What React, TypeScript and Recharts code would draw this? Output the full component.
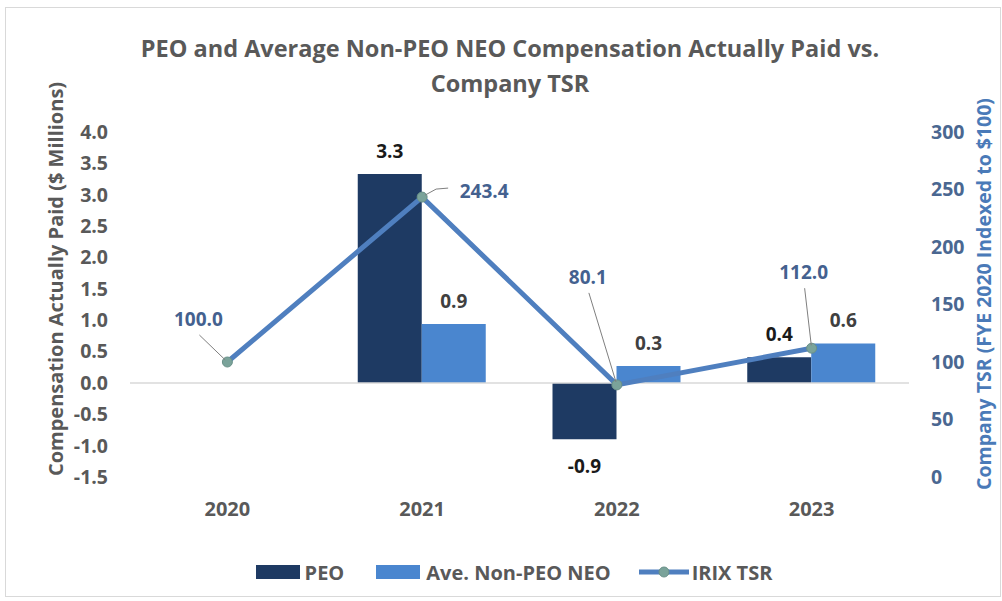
import React from 'react';
import {
  ComposedChart,
  Bar,
  Line,
  XAxis,
  YAxis,
  ReferenceLine,
  LabelList,
  Legend,
  Customized,
} from 'recharts';

// ---------- data ----------
const years = ['2020', '2021', '2022', '2023'];
const peoValues: (number | null)[] = [null, 3.33, -0.9, 0.41];
const nonPeoValues: (number | null)[] = [null, 0.94, 0.27, 0.63];
const tsrValues = [100.0, 243.4, 80.1, 112.0];
const leftTicks = [-1.5, -1.0, -0.5, 0.0, 0.5, 1.0, 1.5, 2.0, 2.5, 3.0, 3.5, 4.0];
const rightTicks = [0, 50, 100, 150, 200, 250, 300];

const data = years.map((year, i) => ({
  year,
  peo: peoValues[i],
  nonPeo: nonPeoValues[i],
  tsr: tsrValues[i],
}));

// ---------- styles ----------
const FONT = '"Open Sans", "Noto Sans", sans-serif';
const GRAY = '#595959';
const PEO_COLOR = '#1e3a63';
const NONPEO_COLOR = '#4a86cf';
const LINE_COLOR = '#4f7fbf';
const TSR_LABEL_COLOR = '#44618f';
const RIGHT_TICK_COLOR = '#4a6791';
const RIGHT_TITLE_COLOR = '#4a7ab8';
const LABEL_SIZE = 19;

// label placement (relative to each TSR point)
const TSR_LABEL_OFFSETS: [number, number][] = [
  [-29, -43],
  [62, -6],
  [-29, -108],
  [-8, -76],
];

const makeBarLabel = (color: string) => (props: any) => {
  const { x, y, width, height, value } = props;
  if (value === null || value === undefined) return null;
  const top = Math.min(y, y + height);
  const bottom = Math.max(y, y + height);
  const cx = x + width / 2;
  const cy = value >= 0 ? top - 23 : bottom + 27;
  return (
    <text
      x={cx}
      y={cy}
      textAnchor="middle"
      dominantBaseline="central"
      fill={color}
      fontSize={LABEL_SIZE}
      fontWeight={700}
      fontFamily={FONT}
    >
      {Number(value).toFixed(1)}
    </text>
  );
};

const TsrLabel = (props: any) => {
  const { x, y, value, index } = props;
  if (value === null || value === undefined) return null;
  const [dx, dy] = TSR_LABEL_OFFSETS[index] || [0, -20];
  const lx = x + dx;
  const ly = y + dy;
  const horizontal = Math.abs(dy) < 20;
  let points: string;
  if (horizontal) {
    points = `${x + 3},${y - 2} ${x + 14},${y - 8} ${lx - 36},${y - 9}`;
  } else {
    const sx = lx + 1;
    const sy = ly + 16;
    const len = Math.hypot(x - sx, y - sy);
    const ex = x - ((x - sx) / len) * 3;
    const ey = y - ((y - sy) / len) * 3;
    points = `${sx},${sy} ${ex},${ey}`;
  }
  return (
    <g>
      <polyline points={points} fill="none" stroke="#7f7f7f" strokeWidth={1} />
      <text
        x={lx}
        y={ly}
        textAnchor="middle"
        dominantBaseline="central"
        fill={TSR_LABEL_COLOR}
        fontSize={LABEL_SIZE}
        fontWeight={700}
        fontFamily={FONT}
      >
        {Number(value).toFixed(1)}
      </text>
    </g>
  );
};

const Decorations = () => (
  <g>
    <rect x={5.5} y={7.5} width={995} height={589} fill="none" stroke="#d9d9d9" strokeWidth={1} />
    <text
      x={510}
      y={48}
      textAnchor="middle"
      dominantBaseline="central"
      fill={GRAY}
      fontSize={23.5}
      fontWeight={700}
      fontFamily={FONT}
    >
      PEO and Average Non-PEO NEO Compensation Actually Paid vs.
    </text>
    <text
      x={510}
      y={83}
      textAnchor="middle"
      dominantBaseline="central"
      fill={GRAY}
      fontSize={23.5}
      fontWeight={700}
      fontFamily={FONT}
    >
      Company TSR
    </text>
    <text
      x={55}
      y={279}
      transform="rotate(-90 55 279)"
      textAnchor="middle"
      dominantBaseline="central"
      fill={GRAY}
      fontSize={20}
      fontWeight={700}
      fontFamily={FONT}
    >
      Compensation Actually Paid ($ Millions)
    </text>
    <text
      x={983}
      y={294}
      transform="rotate(-90 983 294)"
      textAnchor="middle"
      dominantBaseline="central"
      fill={RIGHT_TITLE_COLOR}
      fontSize={19.5}
      fontWeight={700}
      fontFamily={FONT}
    >
      Company TSR (FYE 2020 Indexed to $100)
    </text>
  </g>
);

const LegendContent = () => (
  <div
    style={{
      display: 'flex',
      justifyContent: 'center',
      alignItems: 'center',
      height: 24,
      paddingLeft: 26,
      fontFamily: FONT,
      fontSize: 20,
      fontWeight: 700,
      color: GRAY,
      whiteSpace: 'nowrap',
    }}
  >
    <span style={{ display: 'inline-block', width: 44, height: 14, background: PEO_COLOR }} />
    <span style={{ marginLeft: 5 }}>PEO</span>
    <span style={{ display: 'inline-block', width: 44, height: 14, background: NONPEO_COLOR, marginLeft: 32 }} />
    <span style={{ marginLeft: 6 }}>Ave. Non-PEO NEO</span>
    <svg width={50} height={14} style={{ marginLeft: 28 }}>
      <line x1={0} y1={7} x2={50} y2={7} stroke={LINE_COLOR} strokeWidth={5} />
      <circle cx={25} cy={7} r={5} fill="#7aa39a" stroke="#6a9189" strokeWidth={1} />
    </svg>
    <span style={{ marginLeft: 3 }}>IRIX TSR</span>
  </div>
);

const tickStyle = { fill: GRAY, fontSize: 19.5, fontWeight: 700, fontFamily: FONT };

export default function App() {
  return (
    <div style={{ position: 'absolute', left: 0, top: 0, width: 1002, height: 601, background: '#fff' }}>
      <ComposedChart
        width={1002}
        height={601}
        data={data}
        margin={{ top: 132, right: 0, bottom: 10, left: 0 }}
        barGap={0}
      >
        <XAxis
          dataKey="year"
          axisLine={false}
          tickLine={false}
          tickSize={0}
          tickMargin={25}
          height={90}
          tick={{ ...tickStyle, fontSize: 20 }}
          interval={0}
        />
        <YAxis
          yAxisId="left"
          orientation="left"
          width={130}
          domain={[-1.5, 4]}
          ticks={leftTicks}
          allowDataOverflow
          axisLine={false}
          tickLine={false}
          tickSize={0}
          tickMargin={22}
          tick={tickStyle}
          tickFormatter={(v: number) => v.toFixed(1)}
          interval={0}
        />
        <YAxis
          yAxisId="right"
          orientation="right"
          width={93}
          domain={[0, 300]}
          ticks={rightTicks}
          allowDataOverflow
          axisLine={false}
          tickLine={false}
          tickSize={0}
          tickMargin={22}
          tick={{ ...tickStyle, fill: RIGHT_TICK_COLOR }}
          interval={0}
        />
        <ReferenceLine yAxisId="left" y={0} stroke="#d9d9d9" strokeWidth={1.5} />
        <Bar yAxisId="left" dataKey="peo" name="PEO" fill={PEO_COLOR} barSize={64} isAnimationActive={false}>
          <LabelList dataKey="peo" content={makeBarLabel('#1a1a1a')} />
        </Bar>
        <Bar yAxisId="left" dataKey="nonPeo" name="Ave. Non-PEO NEO" fill={NONPEO_COLOR} barSize={64} isAnimationActive={false}>
          <LabelList dataKey="nonPeo" content={makeBarLabel('#404040')} />
        </Bar>
        <Line
          yAxisId="right"
          dataKey="tsr"
          name="IRIX TSR"
          stroke={LINE_COLOR}
          strokeWidth={5}
          dot={{ r: 5, fill: '#7aa39a', stroke: '#6a9189', strokeWidth: 1 }}
          activeDot={false}
          isAnimationActive={false}
        >
          <LabelList dataKey="tsr" content={TsrLabel} />
        </Line>
        <Legend
          verticalAlign="bottom"
          wrapperStyle={{ top: 560, left: 0, width: 1002, height: 24 }}
          content={LegendContent}
        />
        <Customized component={Decorations} />
      </ComposedChart>
    </div>
  );
}
